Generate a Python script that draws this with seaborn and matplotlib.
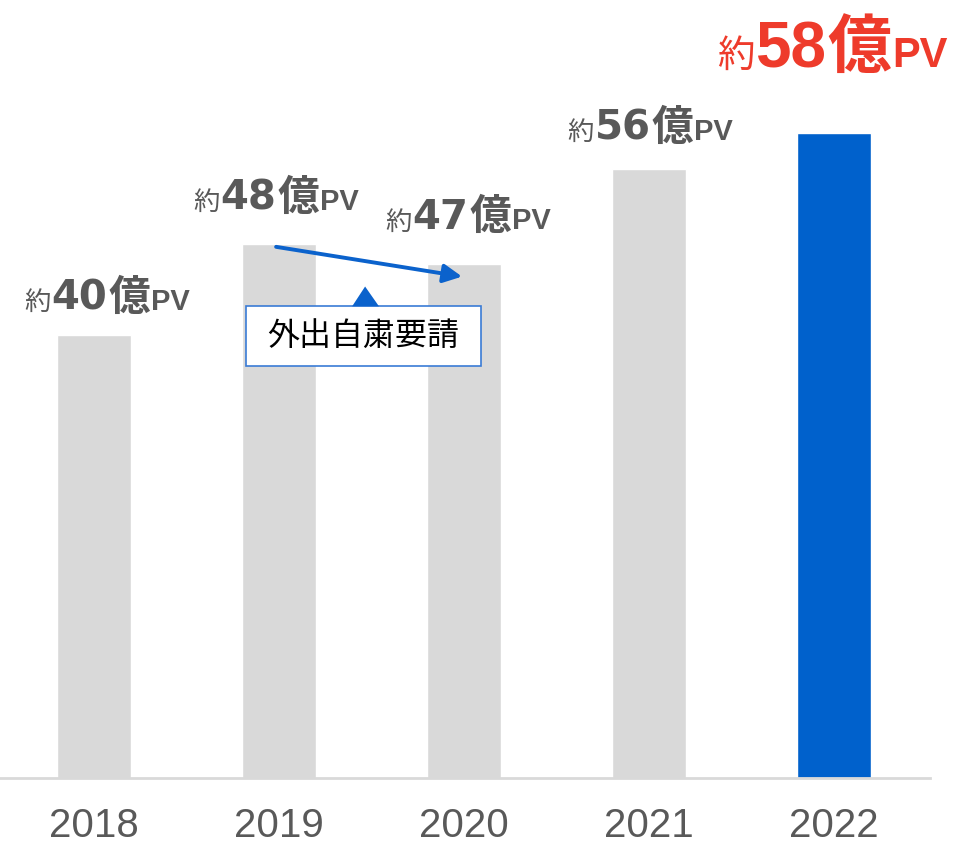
#!/usr/bin/env python3
"""
Yearly page views bar chart (2018-2022) with a callout on 2020.
"""

import numpy as np
import matplotlib
matplotlib.use("Agg")
import matplotlib.pyplot as plt
import seaborn as sns
from matplotlib.patches import Rectangle, Polygon
from matplotlib.transforms import offset_copy

# data
years = ["2018", "2019", "2020", "2021", "2022"]
pv_values = [40.2, 48.5, 46.6, 55.3, 58.5]      # 億PV
pv_labels = ["40", "48", "47", "56", "58"]      # printed (rounded) values
bar_colors = ["#D9D9D9", "#D9D9D9", "#D9D9D9", "#D9D9D9", "#0061CC"]
callout_text = "外出自粛要請"

# label placement (pixels relative to bar top centre)
label_dx = [13, -3, 4, 1, -2]
label_dy = [25, 34, 35, 29, 66]

GREY = "#595959"
RED = "#EE3B2B"
BLUE = "#0B62CC"
CJK = "Noto Sans CJK JP"
LAT = "Liberation Sans"
WIDE = "DejaVu Sans"

sns.set_theme(style="white")
plt.rcParams["font.family"] = [LAT, CJK, "DejaVu Sans"]

fig = plt.figure(figsize=(9.59, 8.47), dpi=100)
ax = fig.add_axes([0, 69 / 847, 930 / 959, 66 * 11.02 / 847])

sns.barplot(x=years, y=pv_values, hue=years, palette=bar_colors,
            width=0.4, legend=False, ax=ax, saturation=1)

ax.set_xlim(-94 / 185, 836 / 185 - 0.001)
ax.set_ylim(0, 66)
ax.set_xlabel("")
ax.set_ylabel("")
ax.set_yticks([])
for side in ["top", "left", "right"]:
    ax.spines[side].set_visible(False)
ax.spines["bottom"].set_color("#D9D9D9")
ax.spines["bottom"].set_linewidth(2)
ax.tick_params(axis="x", length=0, pad=21, labelsize=29, labelcolor=GREY)
ax.patch.set_alpha(0)


def draw_label(i, value, number, big):
    if big:
        color = RED
        pieces = [("約", 27, "normal", CJK), (number, 46, "bold", LAT),
                  ("億", 46, "bold", CJK), ("PV", 30, "bold", LAT)]
    else:
        color = GREY
        pieces = [("約", 19, "normal", CJK), (number, 29, "bold", WIDE),
                  ("億", 30, "bold", CJK), ("PV", 21, "bold", LAT)]
    renderer = fig.canvas.get_renderer()
    texts, widths = [], []
    for s, size, weight, fam in pieces:
        t = ax.text(i, value, s, fontsize=size, fontweight=weight,
                    family=[fam, CJK], color=color, ha="left", va="baseline")
        texts.append(t)
        widths.append(t.get_window_extent(renderer).width)
    gap = 1
    total = sum(widths) + gap * (len(widths) - 1)
    x0 = -total / 2 + label_dx[i]
    for t, w in zip(texts, widths):
        t.set_transform(offset_copy(ax.transData, fig=fig, x=x0,
                                    y=label_dy[i], units="dots"))
        x0 += w + gap


for i, (v, n) in enumerate(zip(pv_values, pv_labels)):
    draw_label(i, v, n, big=(i == len(years) - 1))

# arrow 2019 -> 2020
ax.annotate("", xy=(1.989, 45.5), xytext=(0.984, 48.2),
            arrowprops=dict(arrowstyle="-|>", color=BLUE, lw=2.8,
                            mutation_scale=28, shrinkA=0, shrinkB=0))

# callout box with pointer
ax.add_patch(Rectangle((0.822, 37.4), 1.27, 5.4, facecolor="white",
                       edgecolor="#3A7BD5", linewidth=1.2, zorder=5))
ax.add_patch(Polygon([(1.395, 42.8), (1.54, 42.8), (1.465, 44.6)],
                     closed=True, facecolor=BLUE, edgecolor="none", zorder=5))
ax.text(1.457, 40.1, callout_text, fontsize=23, family=[CJK], color="black",
        ha="center", va="center", zorder=6)

fig.savefig("out.png", dpi=100)
plt.close(fig)
